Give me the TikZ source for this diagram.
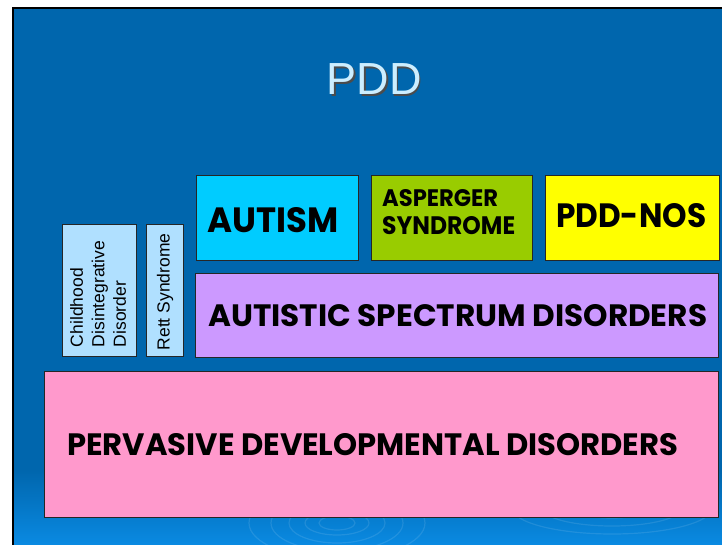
\documentclass[tikz,border=0pt]{standalone}
\usepackage{fontspec}
\setmainfont{Poppins}
\newfontfamily\arialf{Liberation Sans}
\usepackage{graphicx}
\definecolor{slideblue}{HTML}{0066AD}
\definecolor{slidebluelight}{HTML}{0A8AE2}
\definecolor{titlecol}{HTML}{CCEEFF}
\definecolor{pinkc}{HTML}{FF99CC}
\definecolor{purplec}{HTML}{CC99FF}
\definecolor{cyanc}{HTML}{00CCFF}
\definecolor{greenc}{HTML}{99CC00}
\definecolor{yellowc}{HTML}{FFFF00}
\definecolor{lightbc}{HTML}{B0E0FF}
\tikzset{
  boxnode/.style={draw=black!85, line width=0.8pt, inner sep=0pt, anchor=north west},
  lbl/.style={anchor=base west, inner sep=0pt, text=black},
  titlefont/.style={anchor=base, inner sep=0pt, font=\arialf\fontsize{45}{45}\selectfont},
  vlbl/.style={rotate=90, inner sep=0pt, align=left, font=\arialf\fontsize{17.5}{21.5}\selectfont, text=black},
  ripple/.style={draw=white, opacity=0.10, line width=1.2pt}
}
\begin{document}
\begin{tikzpicture}[x=1pt,y=-1pt]
\useasboundingbox (0,0) rectangle (722,545);
\fill[white] (0,0) rectangle (722,545);
\fill[black] (12,7) rectangle (722,545);
\fill[slideblue] (14,9) rectangle (722,545);
\shade[top color=slideblue, bottom color=slidebluelight] (14,470) rectangle (722,545);
% ripples
\foreach \rx/\ry in {18/7,32/12,48/20,66/28,88/36}
  \draw[ripple] (337,523) ellipse ({\rx} and {\ry});
\foreach \rx/\ry in {40/10,70/18,100/26}
  \draw[ripple] (612,508) ellipse ({\rx} and {\ry});
% title
\node[titlefont, text=black!70] (titleshadow) at (375.5,96.5) {PDD};
\node[titlefont, text=titlecol] (title) at (374,95) {PDD};
% boxes
\node[boxnode, fill=pinkc, minimum width=674pt, minimum height=146pt] (pdd) at (44,371) {};
\node[boxnode, fill=purplec, minimum width=523pt, minimum height=84pt] (asd) at (195,273) {};
\node[boxnode, fill=cyanc, minimum width=162pt, minimum height=84pt] (autism) at (195.5,175.5) {};
\node[boxnode, fill=greenc, minimum width=161pt, minimum height=84pt] (asp) at (371,175.5) {};
\node[boxnode, fill=yellowc, minimum width=174pt, minimum height=84pt] (nos) at (545,175.5) {};
\node[boxnode, fill=lightbc, minimum width=74pt, minimum height=132pt] (cdd) at (62,224) {};
\node[boxnode, fill=lightbc, minimum width=36.5pt, minimum height=132pt] (rett) at (146,224) {};
% labels
\node[lbl] (pddt) at (67,455) {\resizebox{611pt}{22pt}{\bfseries PERVASIVE DEVELOPMENTAL DISORDERS}};
\node[lbl] (asdt) at (208,326) {\resizebox{499pt}{22pt}{\bfseries AUTISTIC SPECTRUM DISORDERS}};
\node[lbl] (autismt) at (207,232) {\resizebox{131pt}{25pt}{\bfseries AUTISM}};
\node[lbl] (nost) at (556,227) {\resizebox{150pt}{24pt}{\bfseries PDD-NOS}};
\node[lbl] (aspt1) at (382,207) {\resizebox{116pt}{17pt}{\bfseries ASPERGER}};
\node[lbl] (aspt2) at (382,235) {\resizebox{133pt}{18pt}{\bfseries SYNDROME}};
\node[vlbl] (cddt) at (98,294) {Childhood\\Disintegrative\\Disorder};
\node[vlbl] (rettt) at (165,292) {Rett Syndrome};
\end{tikzpicture}
\end{document}
